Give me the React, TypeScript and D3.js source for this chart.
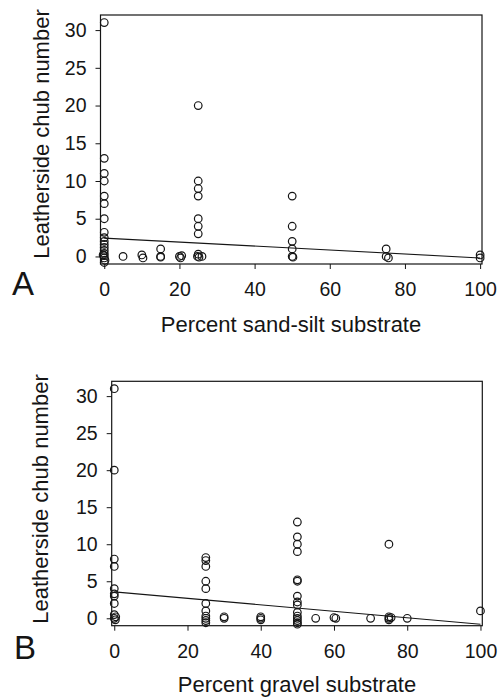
import React, { useEffect, useRef } from 'react';
import * as d3 from 'd3';

// panel A: percent sand-silt substrate vs leatherside chub number
const sandX = [0, 0, 0, 0, 0, 0, 0, 0, 0, 0, 0, 0, 0, 0, 0, -0.3, 0, 0.2, 0,
  5, 10, 10.3, 15, 15, 15, 20, 20.3, 20.6,
  25, 25, 25, 25, 25, 25, 25, 25, 24.8, 25.2, 26,
  50, 50, 50, 50, 50, 50.2, 75, 75, 75.6, 100, 100];
const sandY = [31, 13, 11, 10, 8, 7, 5, 3.2, 2.5, 2, 1.6, 1.2, 0.8, 0.4, 0.1, 0.2, -0.2, -0.5, -0.8,
  0, 0.2, -0.2, 1, 0, -0.1, 0, -0.2, 0.1,
  20, 10, 9, 8, 5, 4, 3, 0.3, 0, -0.1, 0,
  8, 4, 2, 1, 0, -0.1, 1, 0, -0.2, 0.2, -0.2];
const sandFit = [{ x: 0, y: 2.43 }, { x: 100, y: -0.2 }];

// panel B: percent gravel substrate vs leatherside chub number
const gravelX = [0, 0, 0, 0, 0, 0, 0, 0, 0, 0.4, 0, 0.3,
  25, 25, 25, 25, 25, 25, 25, 25, 25, 25, 25,
  30, 30, 40, 40, 40,
  50, 50, 50, 50, 50, 50, 50, 50, 50, 50, 50, 50, 50, 50, 50,
  55, 60, 60.5, 70, 75, 75, 75, 75, 75.6, 80, 100];
const gravelY = [31, 20, 8, 7, 4, 3.3, 3, 2, 0.5, 0.2, 0, -0.2,
  8.2, 7.8, 7, 5, 4, 2, 1, 0.3, 0, -0.3, -0.6,
  0.2, 0, 0.2, 0, -0.2,
  13, 11, 10, 9, 5.2, 5, 3, 2.2, 1.8, 0.8, 0.3, 0, -0.3, -0.6, -0.8,
  0, 0.1, 0, 0, 10, 0.2, 0, -0.2, 0.1, 0, 1];
const gravelFit = [{ x: 0, y: 3.57 }, { x: 100, y: -0.8 }];

const xTicks = [0, 20, 40, 60, 80, 100];
const yTicks = [0, 5, 10, 15, 20, 25, 30];

const ink = '#151515';
const font = 'Liberation Sans, Arial, sans-serif';

function drawPanel(svg, p) {
  const xScale = d3.scaleLinear().domain(p.xDomain).range([p.left, p.right]);
  const yScale = d3.scaleLinear().domain([-1, 32]).range([p.bottom, p.top]);

  const g = svg.append('g');

  const xAxis = d3.axisBottom(xScale).tickValues(xTicks).tickSize(5).tickPadding(13).tickSizeOuter(0);
  const yAxis = d3.axisLeft(yScale).tickValues(yTicks).tickSize(5).tickPadding(9).tickSizeOuter(0);

  g.append('g').attr('transform', `translate(0,${p.bottom})`).call(xAxis);
  g.append('g').attr('transform', `translate(${p.left},0)`).call(yAxis);

  g.selectAll('.domain').remove();
  g.selectAll('.tick line').attr('stroke', ink);
  g.selectAll('.tick text')
    .attr('fill', ink)
    .style('font-family', font)
    .style('font-size', '19.5px');

  // frame
  g.append('rect')
    .attr('x', p.left).attr('y', p.top)
    .attr('width', p.right - p.left).attr('height', p.bottom - p.top)
    .attr('fill', 'none').attr('stroke', ink).attr('stroke-width', 1.2);

  // regression line
  const line = d3.line().x(d => xScale(d.x)).y(d => yScale(d.y));
  g.append('path').datum(p.fit)
    .attr('d', line).attr('fill', 'none').attr('stroke', ink).attr('stroke-width', 1.1);

  const pts = p.xs.map((x, i) => ({ x, y: p.ys[i] }));
  g.selectAll('circle.pt').data(pts).enter().append('circle')
    .attr('class', 'pt')
    .attr('cx', d => xScale(d.x))
    .attr('cy', d => yScale(d.y))
    .attr('r', 3.8)
    .attr('fill', 'none')
    .attr('stroke', ink)
    .attr('stroke-width', 1.2);

  g.append('text')
    .attr('x', p.xTitleX).attr('y', p.xTitleY)
    .attr('text-anchor', 'middle')
    .style('font-family', font).style('font-size', '22px').attr('fill', ink)
    .text(p.xTitle);

  g.append('text')
    .attr('transform', `translate(${p.yTitleX},${p.yTitleY}) rotate(-90)`)
    .attr('text-anchor', 'middle')
    .style('font-family', font).style('font-size', '22px').attr('fill', ink)
    .text('Leatherside chub number');

  g.append('text')
    .attr('x', p.letterX).attr('y', p.letterY)
    .style('font-family', font).style('font-size', '33px').attr('fill', ink)
    .text(p.letter);
}

export default function App() {
  const ref = useRef(null);

  useEffect(() => {
    const svg = d3.select(ref.current);
    svg.selectAll('*').remove();

    drawPanel(svg, {
      xs: sandX, ys: sandY, fit: sandFit,
      xDomain: [-1, 100.5], left: 100.5, right: 482, top: 15, bottom: 264,
      xTitle: 'Percent sand-silt substrate', xTitleX: 291, xTitleY: 332,
      yTitleX: 49, yTitleY: 134, letter: 'A', letterX: 12, letterY: 295,
    });

    drawPanel(svg, {
      xs: gravelX, ys: gravelY, fit: gravelFit,
      xDomain: [-0.7, 100.5], left: 111.7, right: 482.3, top: 381.3, bottom: 625.7,
      xTitle: 'Percent gravel substrate', xTitleX: 297, xTitleY: 692,
      yTitleX: 48, yTitleY: 499, letter: 'B', letterX: 14, letterY: 659,
    });
  }, []);

  return (
    <svg ref={ref} width={504} height={698}
      style={{ position: 'absolute', left: 0, top: 0, background: '#fff' }} />
  );
}
